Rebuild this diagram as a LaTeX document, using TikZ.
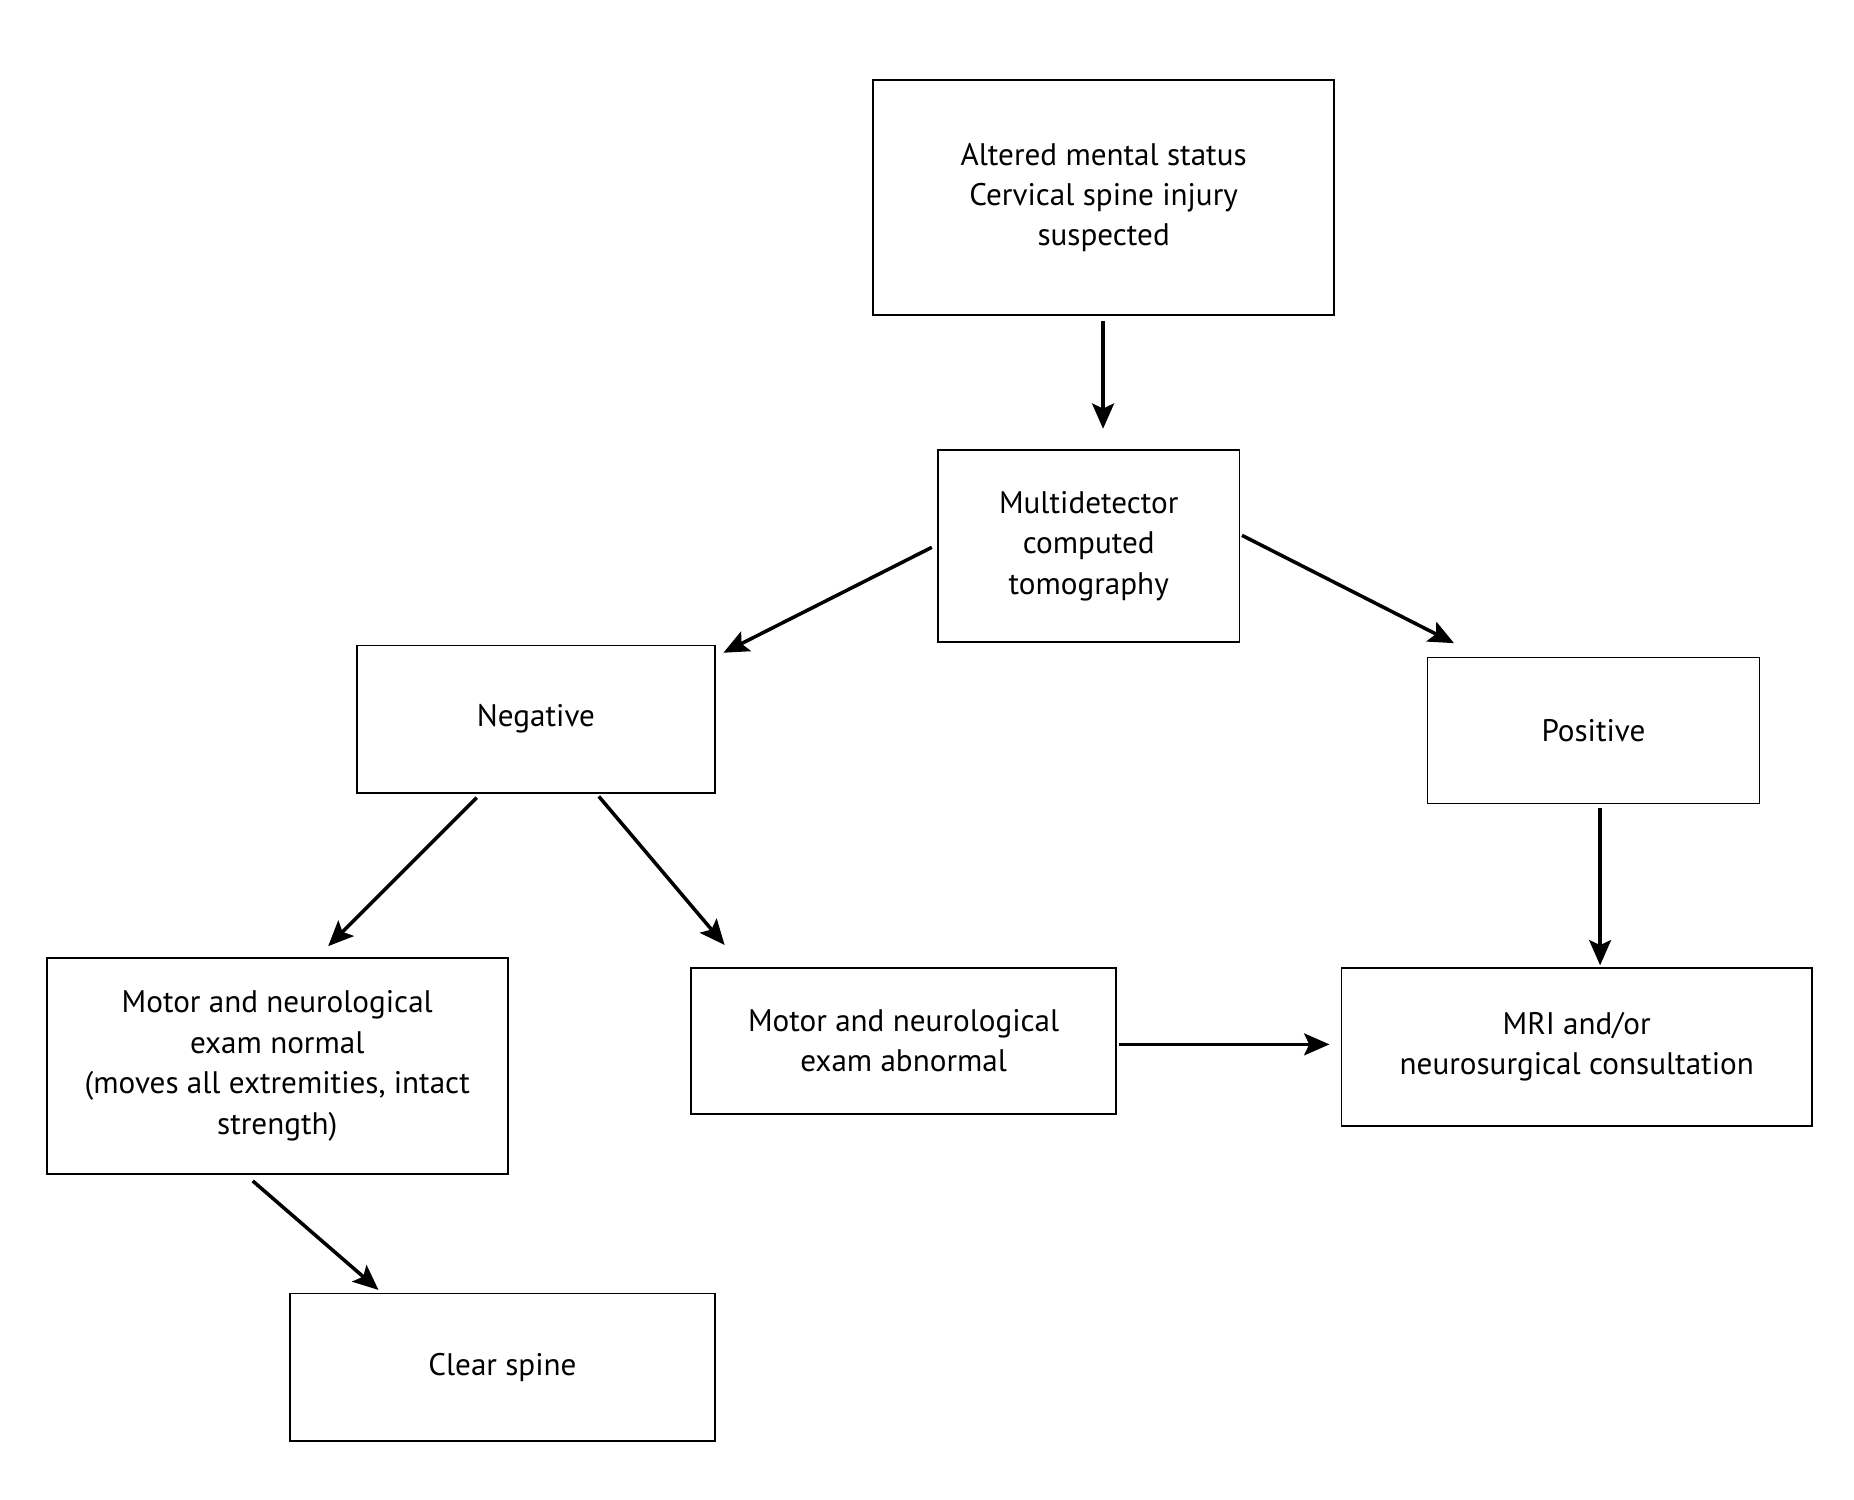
\documentclass[tikz,border=0pt]{standalone}
\usepackage{fontspec}
\setmainfont{PT Sans}
\usetikzlibrary{arrows.meta}
\begin{document}
\begin{tikzpicture}[x=0.05cm,y=-0.05cm,
  box/.style={draw,line width=2pt,align=center,font=\fontsize{37}{48}\selectfont},
  arr/.style={line width=4.2pt,-{Stealth[length=30pt,width=26pt,inset=6pt]}}]
\useasboundingbox (0,0) rectangle (1548,1252);
\draw[box] (729,67) rectangle (1114,263) node[pos=.5] (top) {Altered mental status\\Cervical spine injury\\suspected};
\draw[box] (783,376) rectangle (1035,536) node[pos=.5] (ct) {Multidetector\\computed\\tomography};
\draw[box] (298,539) rectangle (597,662) node[pos=.5] (neg) {Negative};
\draw[box] (1192,549) rectangle (1469,671) node[pos=.5] (pos) {Positive};
\draw[box] (39,800) rectangle (424,980) node[pos=.5] (nor) {Motor and neurological\\exam normal\\(moves all extremities, intact\\strength)};
\draw[box] (577,808) rectangle (932,930) node[pos=.5] (abn) {Motor and neurological\\exam abnormal};
\draw[box] (1120,808) rectangle (1513,940) node[pos=.5] (mri) {MRI and/or\\neurosurgical consultation};
\draw[box] (242,1080) rectangle (597,1203) node[pos=.5] (clr) {Clear spine};
\coordinate (a1) at (921,268); \coordinate (a2) at (921,358);
\coordinate (b1) at (778,457); \coordinate (b2) at (604,545);
\coordinate (c1) at (1037,447); \coordinate (c2) at (1214,537);
\coordinate (d1) at (398,666); \coordinate (d2) at (274,790);
\coordinate (e1) at (500,665); \coordinate (e2) at (605,789);
\coordinate (f1) at (1336,675); \coordinate (f2) at (1336,806);
\coordinate (g1) at (934,872); \coordinate (g2) at (1110,872);
\coordinate (h1) at (211,986); \coordinate (h2) at (316,1077);
\foreach \s in {a,b,c,d,e,f,g,h} \draw[arr] (\s1) -- (\s2);
\end{tikzpicture}
\end{document}
